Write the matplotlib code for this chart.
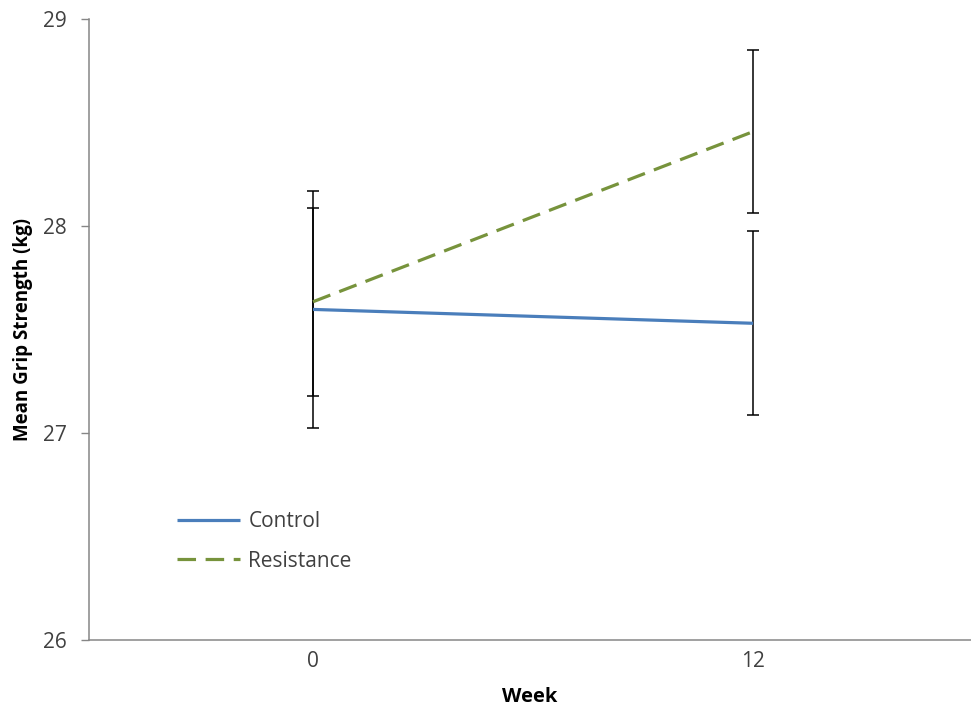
import matplotlib
matplotlib.use("Agg")
import matplotlib.pyplot as plt

plt.rcParams['font.family'] = ['Open Sans', 'DejaVu Sans']

weeks = ["0", "12"]
control_mean = [27.597, 27.530]
control_err = [0.574, 0.444]
resistance_mean = [27.634, 28.456]
resistance_err = [0.454, 0.392]
y_ticks = [26, 27, 28, 29]

blue = "#4A7EBB"
green = "#77933C"
axis_gray = "#868686"
text_col = "#404040"

fig = plt.figure(figsize=(9.71, 7.10), dpi=100)
W, H = 971, 710
left, right, top, bottom = 89, 971, 19, 640
ax = fig.add_axes([left / W, 1 - bottom / H, (right - left) / W, (bottom - top) / H])

x = list(range(len(weeks)))

ax.errorbar(x, control_mean, yerr=control_err, fmt='none', ecolor='black',
            elinewidth=1.1, capsize=4.5, capthick=1.1, zorder=2)
ax.errorbar(x, resistance_mean, yerr=resistance_err, fmt='none', ecolor='black',
            elinewidth=1.1, capsize=4.5, capthick=1.1, zorder=2)

ax.plot(x, control_mean, color=blue, lw=2.3, label="Control", zorder=3,
        solid_capstyle='butt')
ax.plot(x, resistance_mean, color=green, lw=2.3, label="Resistance", zorder=3,
        dashes=(5.8, 3.0), dash_capstyle='butt')

ax.set_xlim(-0.509, 1.495)
ax.set_ylim(26, 29)
ax.set_xticks(x)
ax.set_xticklabels(weeks)
ax.set_yticks(y_ticks)

ax.tick_params(axis='x', length=0, pad=8, labelsize=15, labelcolor=text_col)
ax.tick_params(axis='y', length=6, width=1, color=axis_gray, direction='out',
               pad=10, labelsize=15, labelcolor=text_col)

for s in ['top', 'right']:
    ax.spines[s].set_visible(False)
for s in ['left', 'bottom']:
    ax.spines[s].set_color(axis_gray)
    ax.spines[s].set_linewidth(1.1)

ax.set_xlabel("Week", fontsize=14.5, fontweight='bold', color='black', labelpad=11)
ax.set_ylabel("Mean Grip Strength (kg)", fontsize=13.5, fontweight='bold',
              color='black', labelpad=7)

leg = ax.legend(loc='center left', bbox_to_anchor=(0.0998, 0.159), frameon=False,
                borderpad=0, borderaxespad=0, handlelength=3.0, handletextpad=0.43,
                labelspacing=0.9, fontsize=15)
for t in leg.get_texts():
    t.set_color(text_col)

fig.savefig("out.png", dpi=100)
